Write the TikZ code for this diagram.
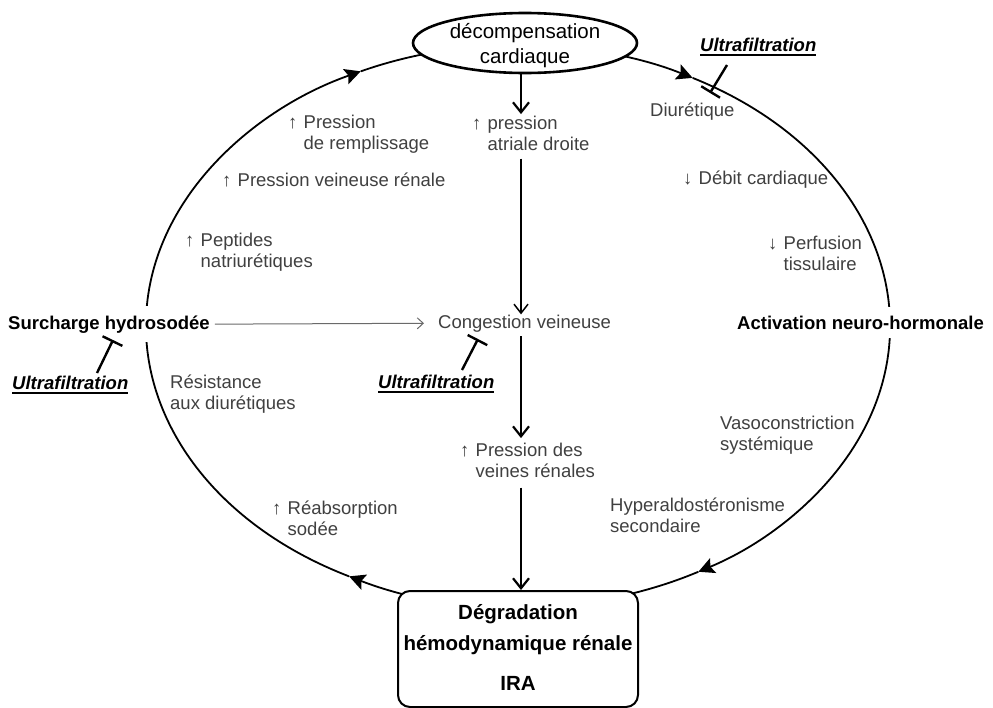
\documentclass[tikz,border=0pt]{standalone}
\usepackage{fontspec}
\setmainfont{Liberation Sans}
\usetikzlibrary{arrows.meta,shapes.geometric,calc}
\definecolor{lbl}{HTML}{404040}
\definecolor{thin}{HTML}{6A6A6A}
\newcommand{\upa}{\makebox[15.5pt][l]{↑}}
\newcommand{\dna}{\makebox[15.5pt][l]{↓}}
\newcommand{\ind}{\hspace*{15.5pt}}
\newcommand{\two}[2]{\begin{tabular}[t]{@{}l@{}}#1\\#2\end{tabular}}
\newsavebox{\ufbox}
\newcommand{\ufx}{\sbox{\ufbox}{\bfseries\itshape Ultrafiltration}\rlap{\usebox{\ufbox}}\rule[-4.5pt]{\wd\ufbox}{1.6pt}}
\begin{document}
\begin{tikzpicture}[x=1pt,y=-1pt,
  lab/.style={font=\fontsize{18.5}{21}\selectfont, text=lbl, inner sep=0pt, anchor=base west},
  key/.style={font=\fontsize{18.5}{21}\selectfont\bfseries, inner sep=0pt, anchor=base west},
  cyc/.style={line width=1.8pt, -{Stealth[length=16pt,width=16pt,inset=3pt]}},
  cycplain/.style={line width=1.8pt},
  varrow/.style={line width=2.2pt, -{Straight Barb[length=10pt,width=16pt]}},
  varrowthin/.style={line width=1.5pt, -{Straight Barb[length=9pt,width=14pt]}},
  harrow/.style={line width=1pt, draw=thin, -{Straight Barb[length=6pt,width=11pt]}},
  tbar/.style={line width=2.4pt, -{Bar[width=22pt]}},
  ]
\useasboundingbox (0,0) rectangle (993,707);
\fill[white] (0,0) rectangle (993,707);

% big cycle (clockwise)
\coordinate (C) at (518,326);
\draw[cyc] (C) ++(-90:372 and 281) arc[start angle=-90, end angle=-62, x radius=372, y radius=281];
\draw[cyc] (C) ++(-62:372 and 281) arc[start angle=-62, end angle=61, x radius=372, y radius=281];
\draw[cyc] (C) ++(61:372 and 281) arc[start angle=61, end angle=117, x radius=372, y radius=281];
\draw[cyc] (C) ++(117:372 and 281) arc[start angle=117, end angle=245, x radius=372, y radius=281];
\draw[cycplain] (C) ++(245:372 and 281) arc[start angle=245, end angle=270, x radius=372, y radius=281];

% main nodes
\node[draw, ellipse, line width=2.6pt, fill=white, minimum width=224, minimum height=60, inner sep=0pt] (top) at (525,43) {};
\node[font=\fontsize{20.5}{25}\selectfont, align=center, inner sep=0pt] (toptext) at (525,46) {décompensation\\cardiaque};

\node[draw, rounded corners=12pt, line width=2pt, fill=white, minimum width=240, minimum height=116, inner sep=0pt] (box) at (518,649) {};
\node[font=\fontsize{20.5}{25}\selectfont\bfseries, inner sep=0pt, anchor=base] (boxtext) at (518,619)
  {\begin{tabular}[t]{@{}c@{}}Dégradation\\[6pt]hémodynamique rénale\\[15pt]IRA\end{tabular}};

\node[key, fill=white, inner ysep=9pt] (surch) at (8,329) {Surcharge hydrosodée};
\node[key, fill=white, inner ysep=9pt] (activ) at (737,329) {Activation neuro-hormonale};

% labels
\node[lab] (remp) at (288,128) {\two{\upa Pression}{\ind de remplissage}};
\node[lab] (pvr) at (222,186) {\upa Pression veineuse rénale};
\node[lab] (pept) at (185,246) {\two{\upa Peptides}{\ind natriurétiques}};
\node[lab] (resis) at (170,388) {\two{Résistance}{aux diurétiques}};
\node[lab] (reab) at (272,514) {\two{\upa Réabsorption}{\ind sodée}};
\node[lab] (pad) at (472,129) {\two{\upa pression}{\ind atriale droite}};
\node[lab] (cong) at (438,328) {Congestion veineuse};
\node[lab] (pvein) at (460,456) {\two{\upa Pression des}{\ind veines rénales}};
\node[lab] (diur) at (650,116) {Diurétique};
\node[lab] (debit) at (683,184) {\dna Débit cardiaque};
\node[lab] (perf) at (768,249) {\two{\dna Perfusion}{\ind tissulaire}};
\node[lab] (vaso) at (720,429) {\two{Vasoconstriction}{systémique}};
\node[lab] (hyper) at (610,511) {\two{Hyperaldostéronisme}{secondaire}};

% ultrafiltration
\node[key] (uf1) at (12,389) {\ufx};
\node[key] (uf2) at (378,388) {\ufx};
\node[key] (uf3) at (700,51) {\ufx};

% central arrows
\coordinate (ax) at (521,0);
\draw[varrow] (top.south -| ax) -- (pad.north -| ax);
\draw[varrowthin, shorten <=2pt] (pad.south -| ax) -- (cong.north -| ax);
\draw[varrow, shorten <=4pt, shorten >=3pt] (cong.south -| ax) -- (pvein.north -| ax);
\draw[varrow, shorten <=4pt] (pvein.south -| ax) -- (box.north -| ax);
\draw[harrow, shorten <=5pt, shorten >=14pt] (surch.east) -- (cong.west);

% inhibitions
\coordinate (t1s) at (97,373);
\coordinate (t1e) at (113,340);
\coordinate (t2s) at (462,370);
\coordinate (t2e) at (478,339);
\coordinate (t3s) at (727,65);
\coordinate (t3e) at (710,93);
\draw[tbar] (t1s) -- (t1e);
\draw[tbar] (t2s) -- (t2e);
\draw[tbar] (t3s) -- (t3e);
\end{tikzpicture}
\end{document}
